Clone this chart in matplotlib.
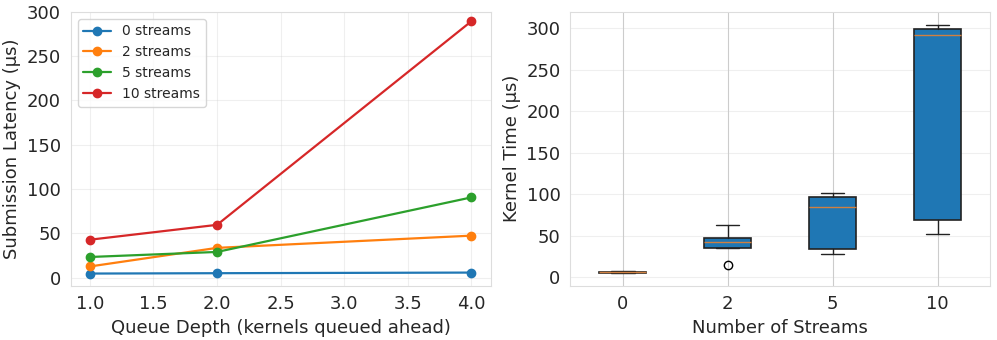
import matplotlib
matplotlib.use("Agg")
import matplotlib.pyplot as plt
import seaborn as sns

sns.set_style("whitegrid")
plt.rcParams['font.family'] = ['DejaVu Sans']

# Left panel data
queue_depth = [1.0, 2.0, 4.0]
series_labels = ["0 streams", "2 streams", "5 streams", "10 streams"]
lat_0 = [4.6, 5.0, 5.7]
lat_2 = [12.6, 33.6, 47.4]
lat_5 = [23.3, 29.0, 90.6]
lat_10 = [42.8, 59.6, 289.5]

# Right panel data (box statistics)
stream_labels = ["0", "2", "5", "10"]
whislo = [5.5, 35.2, 28.4, 52.4]
q1 = [5.6, 35.6, 34.4, 69.6]
med = [6.3, 42.0, 84.8, 292.0]
q3 = [7.0, 47.2, 97.2, 299.2]
whishi = [7.2, 63.6, 101.2, 304.4]
fliers = [[], [15.2], [], []]

fig, (ax1, ax2) = plt.subplots(1, 2, figsize=(9.97, 3.4), dpi=100)
fig.subplots_adjust(left=0.071, right=0.993, top=0.965, bottom=0.16, wspace=0.19)

colors = ["#1f77b4", "#ff7f0e", "#2ca02c", "#d62728"]
for vals, lab, c in zip([lat_0, lat_2, lat_5, lat_10], series_labels, colors):
    ax1.plot(queue_depth, vals, marker="o", color=c, label=lab, linewidth=1.6, markersize=6)
ax1.set_xlabel("Queue Depth (kernels queued ahead)", fontsize=13, color="#262626")
ax1.set_ylabel("Submission Latency (µs)", fontsize=13, color="#262626")
ax1.tick_params(labelsize=13)
ax1.grid(True, alpha=0.3)
ax1.legend(fontsize=10, loc="upper left")
ax1.set_xlim(0.85, 4.15)
ax1.set_ylim(-9, 300)

stats = []
for i, lab in enumerate(stream_labels):
    stats.append(dict(label=lab, whislo=whislo[i], q1=q1[i], med=med[i],
                      q3=q3[i], whishi=whishi[i], fliers=fliers[i]))
bp = ax2.bxp(stats, positions=[1, 2, 3, 4], widths=0.45, patch_artist=True)
for b in bp['boxes']:
    b.set_facecolor("#1f77b4")
    b.set_edgecolor("#222222")
    b.set_linewidth(1.2)
for m in bp['medians']:
    m.set_color("#d08040")
for w in bp['whiskers'] + bp['caps']:
    w.set_color("#222222")
ax2.set_xlabel("Number of Streams", fontsize=13, color="#262626")
ax2.set_ylabel("Kernel Time (µs)", fontsize=13, color="#262626")
ax2.tick_params(labelsize=13)
ax2.grid(axis="y", alpha=0.3)
ax2.set_ylim(-10, 320)

for ax in (ax1, ax2):
    for s in ax.spines.values():
        s.set_color("#dddddd")

fig.savefig("out.png", dpi=100)
